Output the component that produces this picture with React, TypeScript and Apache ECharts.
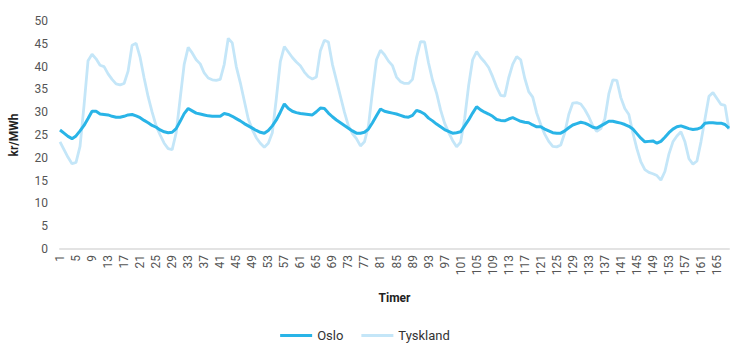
import React, { useEffect, useRef } from "react";
import * as echarts from "echarts";

const hours: string[] = Array.from({ length: 168 }, (_, i) => String(i + 1));

const oslo: number[] = [
  26.1, 25.4, 24.7, 24.2, 24.8, 25.9, 27.1, 28.6, 30.2, 30.2,
  29.6, 29.5, 29.4, 29.1, 28.9, 28.9, 29.1, 29.4, 29.5, 29.2,
  28.8, 28.2, 27.7, 27.1, 26.7, 26.1, 25.7, 25.5, 25.6, 26.4,
  28.0, 29.7, 30.8, 30.3, 29.8, 29.6, 29.4, 29.2, 29.1, 29.1,
  29.1, 29.7, 29.5, 29.1, 28.6, 28.1, 27.5, 27.0, 26.5, 26.0,
  25.6, 25.4, 26.0, 27.0, 28.3, 30.0, 31.8, 30.8, 30.2, 29.9,
  29.7, 29.6, 29.5, 29.4, 30.1, 30.9, 30.8, 29.8, 29.0, 28.3,
  27.7, 27.1, 26.5, 25.9, 25.4, 25.4, 25.6, 26.3, 27.7, 29.2,
  30.7, 30.2, 30.0, 29.8, 29.6, 29.3, 29.0, 28.9, 29.3, 30.4,
  30.1, 29.6, 28.7, 28.1, 27.4, 26.8, 26.2, 25.8, 25.4, 25.5,
  25.7, 27.0, 28.3, 29.8, 31.2, 30.5, 30.0, 29.6, 29.1, 28.4,
  28.2, 28.1, 28.5, 28.8, 28.4, 28.0, 27.8, 27.7, 27.2, 26.8,
  26.8, 26.3, 25.9, 25.5, 25.4, 25.4, 25.9, 26.6, 27.2, 27.5,
  27.8, 27.6, 27.2, 26.7, 26.5, 27.0, 27.5, 28.0, 28.0, 27.8,
  27.6, 27.3, 26.9, 26.3, 25.3, 24.3, 23.5, 23.6, 23.7, 23.2,
  23.6, 24.5, 25.5, 26.3, 26.8, 27.0, 26.7, 26.4, 26.2, 26.3,
  26.6, 27.6, 27.7, 27.7, 27.6, 27.6, 27.3, 26.5,
];

const tyskland: number[] = [
  23.5, 21.8, 20.1, 18.7, 19.0, 22.5, 31.5, 41.3, 42.7, 41.7,
  40.3, 40.0, 38.4, 37.2, 36.2, 36.0, 36.3, 39.0, 44.7, 45.1,
  42.0, 37.5, 33.4, 30.0, 27.0, 25.0, 23.2, 22.0, 21.8, 25.5,
  33.0, 40.5, 44.2, 43.0, 41.5, 40.6, 38.6, 37.5, 37.1, 37.0,
  37.2, 40.5, 46.2, 45.2, 40.0, 36.5, 32.5, 28.5, 26.2, 24.4,
  23.2, 22.3, 23.2, 25.5, 33.0, 41.1, 44.4, 43.2, 42.0, 41.0,
  40.2, 38.8, 37.8, 37.3, 37.7, 43.5, 45.8, 45.4, 40.5, 37.0,
  33.5, 30.0, 27.0, 25.3, 24.2, 22.6, 23.5, 27.0, 34.5, 41.5,
  43.6, 42.6, 41.2, 40.2, 37.7, 36.7, 36.3, 36.3, 37.2, 42.0,
  45.5, 45.4, 40.8, 37.0, 34.2, 30.5, 27.6, 25.6, 23.8, 22.4,
  23.4, 28.5, 35.8, 41.5, 43.3, 42.0, 41.0, 39.8, 37.8, 35.5,
  33.7, 33.5, 37.5, 40.5, 42.2, 41.5, 37.5, 34.5, 33.3, 29.8,
  27.3, 25.2, 23.6, 22.5, 22.4, 22.8, 25.5, 29.5, 32.0, 32.1,
  31.8, 30.6, 29.0, 27.0, 25.8, 26.4, 28.5, 34.0, 37.1, 37.0,
  33.2, 30.8, 29.5, 25.5, 22.0, 19.1, 17.4, 16.8, 16.5, 16.1,
  15.1, 17.0, 20.8, 23.5, 24.8, 25.7, 23.5, 19.8, 18.6, 19.3,
  23.5, 28.5, 33.5, 34.3, 33.0, 31.7, 31.5, 26.2,
];

const FONT = "Roboto, 'DejaVu Sans', sans-serif";

export default function App() {
  const ref = useRef<HTMLDivElement>(null);
  useEffect(() => {
    if (!ref.current) return;
    const chart = echarts.init(ref.current, undefined, { renderer: "svg" });
    chart.setOption({
      animation: false,
      backgroundColor: "#ffffff",
      textStyle: { fontFamily: FONT },
      grid: { left: 52, right: 1, top: 21, bottom: 109, containLabel: false },
      legend: {
        bottom: 11,
        left: "center",
        icon: "rect",
        itemWidth: 32,
        itemHeight: 3,
        itemGap: 18,
        textStyle: { fontFamily: FONT, fontSize: 13, color: "#333" },
        data: ["Oslo", "Tyskland"],
      },
      xAxis: {
        type: "category",
        data: hours,
        boundaryGap: false,
        name: "Timer",
        nameLocation: "middle",
        nameGap: 43,
        nameTextStyle: { fontFamily: FONT, fontWeight: "bold", fontSize: 12, color: "#222" },
        axisLine: { lineStyle: { color: "#e3e3e3", width: 2 } },
        axisTick: { show: false },
        axisLabel: {
          interval: 3,
          rotate: 90,
          margin: 6,
          fontSize: 12,
          color: "#555",
          fontFamily: FONT,
        },
      },
      yAxis: {
        type: "value",
        min: 0,
        max: 50,
        interval: 5,
        name: "kr/MWh",
        nameLocation: "middle",
        nameGap: 40,
        nameTextStyle: { fontFamily: FONT, fontWeight: "bold", fontSize: 12, color: "#222" },
        axisLine: { show: false },
        axisTick: { show: false },
        splitLine: { show: false },
        axisLabel: { margin: 12, fontSize: 12, color: "#555", fontFamily: FONT },
      },
      series: [
        {
          name: "Oslo",
          type: "line",
          data: oslo,
          showSymbol: false,
          symbol: "none",
          z: 3,
          lineStyle: { color: "#29b4e7", width: 3 },
          itemStyle: { color: "#29b4e7" },
        },
        {
          name: "Tyskland",
          type: "line",
          data: tyskland,
          showSymbol: false,
          symbol: "none",
          z: 2,
          lineStyle: { color: "#c4e6f8", width: 2.8 },
          itemStyle: { color: "#c4e6f8" },
        },
      ],
    });
    return () => chart.dispose();
  }, []);
  return <div ref={ref} style={{ width: 730, height: 358, position: "absolute", left: 0, top: 0 }} />;
}
